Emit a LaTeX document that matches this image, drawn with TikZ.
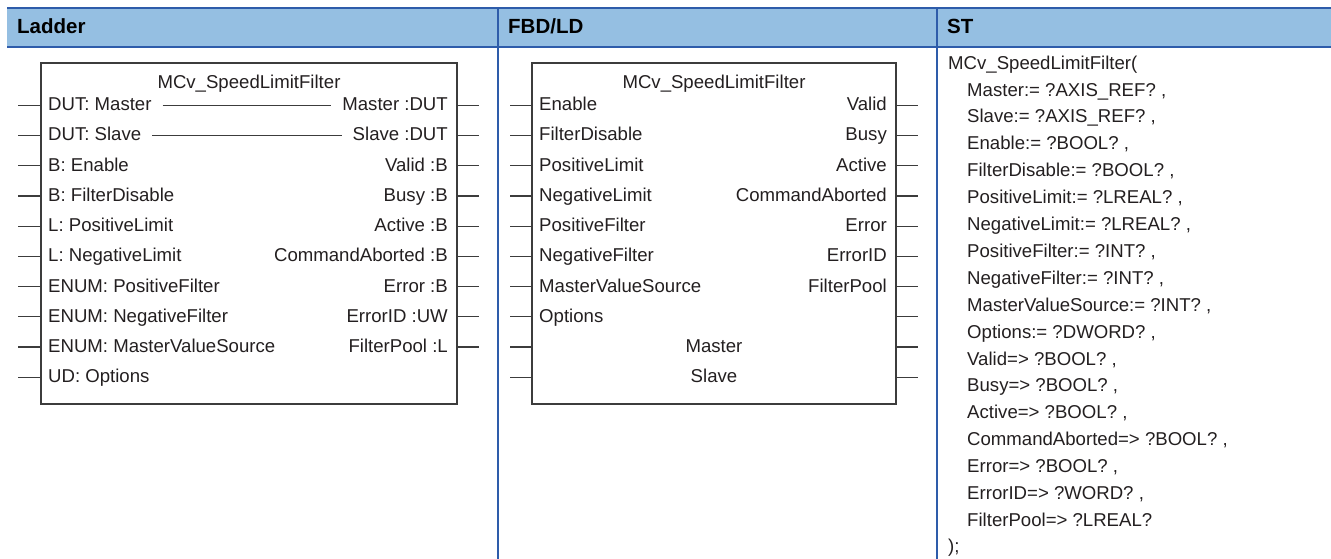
\documentclass[tikz,border=0pt]{standalone}
\usepackage{fontspec}
\setmainfont{Liberation Sans}
\definecolor{hdrblue}{RGB}{149,191,226}
\definecolor{lineblue}{RGB}{46,92,170}
\definecolor{boxgray}{RGB}{60,60,60}
\definecolor{txtgray}{RGB}{35,31,32}

\begin{document}
\begin{tikzpicture}[x=1pt, y=-1pt,
    lbl/.style={inner sep=0pt, text height=13.3pt, text depth=0pt,
        font=\fontsize{18.6}{22}\selectfont, text=txtgray},
    hdr/.style={anchor=west, inner sep=0pt, text height=14.7pt, text depth=0pt,
        font=\fontsize{20.5}{24}\selectfont\bfseries},
    pin/.style={boxgray, line width=1.2pt},
    fbox/.style={draw=boxgray, line width=1.2pt, inner sep=0pt,
        minimum width=416pt, minimum height=341pt}]
    \useasboundingbox (0,0) rectangle (1331,559);

    % 表头
    \fill[hdrblue] (7,8) rectangle (1331,47);
    \draw[lineblue, line width=2pt] (7,8) -- (1331,8) (7,47) -- (1331,47);
    \draw[lineblue, line width=2pt] (498,8) -- (498,559) (937,8) -- (937,559);
    \node[hdr] (hladder) at (17,26) {Ladder};
    \node[hdr] (hfbd) at (508,26) {FBD/LD};
    \node[hdr] (hst) at (947,26) {ST};

    % Ladder 功能块
    \node[fbox] (lbox) at (249,233.5) {};
    \node[lbl] (ltitle) at (249,81.5) {MCv\_SpeedLimitFilter};
    \foreach \t [count=\i from 0] in {DUT: Master, DUT: Slave, B: Enable,
        B: FilterDisable, L: PositiveLimit, L: NegativeLimit,
        ENUM: PositiveFilter, ENUM: NegativeFilter, ENUM: MasterValueSource,
        UD: Options} {
        \node[lbl, anchor=west] (lin\i) at (48,{104+30.25*\i}) {\t};
        \coordinate (lpin\i) at (18,{105.3+30.2*\i});
        \draw[pin] (lpin\i) -- (lpin\i -| lbox.west);
    }
    \foreach \t [count=\i from 0] in {Master :DUT, Slave :DUT, Valid :B,
        Busy :B, Active :B, CommandAborted :B, Error :B, ErrorID :UW,
        FilterPool :L} {
        \node[lbl, anchor=east] (lout\i) at (448,{104+30.25*\i}) {\t};
        \coordinate (rpin\i) at (479,{105.3+30.2*\i});
        \draw[pin] (lbox.east |- rpin\i) -- (rpin\i);
    }
    % 直通的轴
    \draw[pin, line width=1pt] ([xshift=11pt,yshift=-1.5pt]lin0.east) -- ([xshift=-11pt,yshift=-1.5pt]lout0.west);
    \draw[pin, line width=1pt] ([xshift=11pt,yshift=-1.5pt]lin1.east) -- ([xshift=-11pt,yshift=-1.5pt]lout1.west);

    % FBD/LD 功能块
    \node[fbox, minimum width=364pt] (fbox) at (714,233.5) {};
    \node[lbl] (ftitle) at (714,81.5) {MCv\_SpeedLimitFilter};
    \foreach \t [count=\i from 0] in {Enable, FilterDisable, PositiveLimit,
        NegativeLimit, PositiveFilter, NegativeFilter, MasterValueSource,
        Options} {
        \node[lbl, anchor=west] (fin\i) at (539,{104+30.25*\i}) {\t};
    }
    \node[lbl] (fmaster) at (714,346) {Master};
    \node[lbl] (fslave) at (714,376.3) {Slave};
    \foreach \t [count=\i from 0] in {Valid, Busy, Active, CommandAborted,
        Error, ErrorID, FilterPool} {
        \node[lbl, anchor=east] (fout\i) at (887,{104+30.25*\i}) {\t};
    }
    \foreach \i in {0,...,9} {
        \coordinate (fl\i) at (510,{105.3+30.2*\i});
        \coordinate (fr\i) at (918,{105.3+30.2*\i});
        \draw[pin] (fl\i) -- (fl\i -| fbox.west);
        \draw[pin] (fbox.east |- fr\i) -- (fr\i);
    }

    % ST 代码
    \node[lbl, anchor=west] (st0) at (948,62.5) {MCv\_SpeedLimitFilter(};
    \foreach \t [count=\i from 1] in {{Master:= ?AXIS\_REF? ,},
        {Slave:= ?AXIS\_REF? ,}, {Enable:= ?BOOL? ,},
        {FilterDisable:= ?BOOL? ,}, {PositiveLimit:= ?LREAL? ,},
        {NegativeLimit:= ?LREAL? ,}, {PositiveFilter:= ?INT? ,},
        {NegativeFilter:= ?INT? ,}, {MasterValueSource:= ?INT? ,},
        {Options:= ?DWORD? ,}, {Valid=> ?BOOL? ,}, {Busy=> ?BOOL? ,},
        {Active=> ?BOOL? ,}, {CommandAborted=> ?BOOL? ,},
        {Error=> ?BOOL? ,}, {ErrorID=> ?WORD? ,}, {FilterPool=> ?LREAL?}} {
        \node[lbl, anchor=west] (st\i) at (967,{62.5+26.9*\i}) {\t};
    }
    \node[lbl, anchor=west] (stend) at (948,546) {);};
\end{tikzpicture}
\end{document}
